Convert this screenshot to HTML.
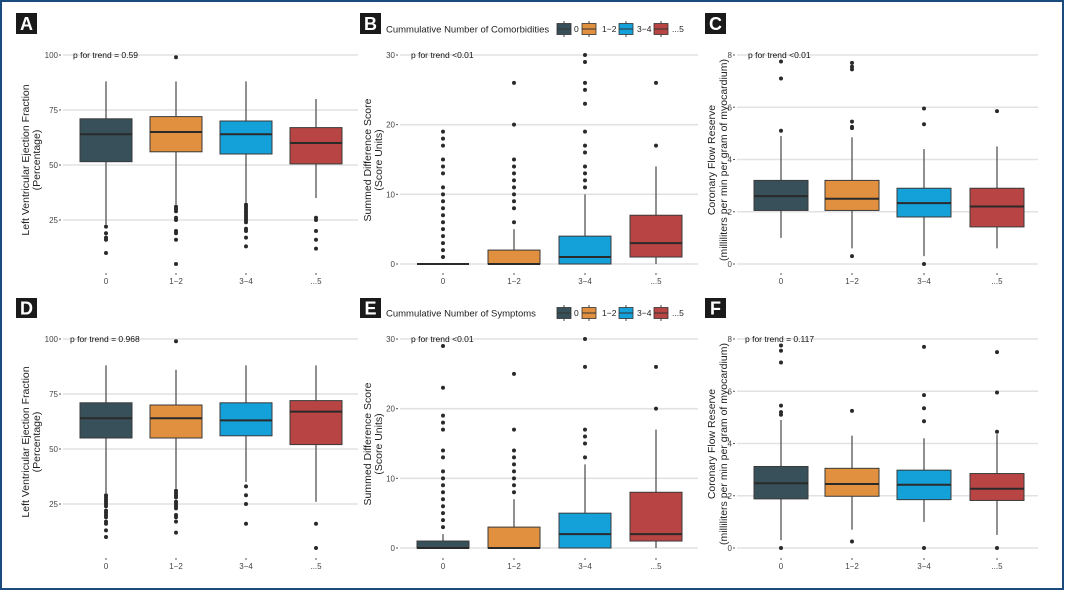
<!DOCTYPE html>
<html><head><meta charset="utf-8">
<style>
body{margin:0;background:#fff;}
svg{display:block;font-family:"Liberation Sans",sans-serif;}
</style></head>
<body>
<svg id="fig" width="1065" height="592" viewBox="0 0 1065 592">
<rect x="1" y="1" width="1062" height="588" fill="#fff" stroke="#1b4a7c" stroke-width="2"/>
</svg>
<script>
const categories = ["0","1\u22122","3\u22124","...5"];
const colors = ["#37505a","#e0903f","#14a0d8","#b84444"];

const aLower=[23,32,33,35], aQ1=[51.5,56,55,50.5], aMed=[64,65,64,60], aQ3=[71,72,70,67], aUpper=[88,88,88,80];
const aOut=[[22,19,17,16,10],[99,31,30,29,26,25,20,19,16,5],[32,31,30,29,28,27,26,25,24,21,20,17,13],[26,25,20,16,12]];
const bLower=[0,0,0,0], bQ1=[0,0,0,1], bMed=[0,0,1,3], bQ3=[0,2,4,7], bUpper=[0,5,10,14];
const bOut=[[1,2,3,4,5,6,7,8,9,10,11,13,14,15,17,18,19],[6,8,9,10,11,12,13,14,15,20,26],[11,12,13,14,16,17,19,23,25,26,29,30],[17,26]];
const cLower=[1.0,0.6,0.3,0.6], cQ1=[2.05,2.05,1.8,1.42], cMed=[2.6,2.5,2.33,2.2], cQ3=[3.2,3.2,2.9,2.9], cUpper=[4.9,4.85,4.4,4.5];
const cOut=[[7.75,7.1,5.1],[7.7,7.55,7.45,5.45,5.25,5.2,0.3],[5.95,5.35,0],[5.85]];
const dLower=[30,32,35,26], dQ1=[55,55,56,52], dMed=[64,64,63,67], dQ3=[71,70,71,72], dUpper=[88,86,88,88];
const dOut=[[29,28,27,26,25,24,22,21,20,19,17,16,13,10],[99,31,30,29,28,26,25,24,23,20,19,17,12],[33,29,25,16],[16,5]];
const eLower=[0,0,0,0], eQ1=[0,0,0,1], eMed=[0,0,2,2], eQ3=[1,3,5,8], eUpper=[2,7,12,17];
const eOut=[[3,4,5,6,7,8,9,10,11,13,14,17,18,19,23,29],[8,9,10,11,12,13,14,17,25],[13,15,16,17,26,30],[20,26]];
const fLower=[0.3,0.7,1.0,0.5], fQ1=[1.88,1.98,1.85,1.82], fMed=[2.48,2.45,2.42,2.27], fQ3=[3.12,3.05,2.98,2.85], fUpper=[4.9,4.3,4.2,4.35];
const fOut=[[7.75,7.55,7.1,5.45,5.2,5.1,0],[5.25,0.25],[7.7,5.85,5.35,4.85,0],[7.5,5.95,4.45,0]];

const efTicks=[25,50,75,100], sdsTicks=[0,10,20,30], cfrTicks=[0,2,4,6,8];

const NS="http://www.w3.org/2000/svg";
const svg=document.getElementById('fig');
function mk(tag,attrs,parent){const e=document.createElementNS(NS,tag);for(const k in attrs)e.setAttribute(k,attrs[k]);(parent||svg).appendChild(e);return e;}

const panels=[
 {id:'a',letter:'A',lx:16,ly:13,lh:21,gx0:63,gx1:358,cx:[106,176,246,316],hw:26,dmin:0,dmax:100,y0:275,yTop:55,ticks:efTicks,ttl:["Left Ventricular Ejection Fraction","(Percentage)"],tx:[29,40],ty:160,p:"p for trend = 0.59",px:73,catY:282,lower:aLower,q1:aQ1,med:aMed,q3:aQ3,upper:aUpper,out:aOut},
 {id:'b',letter:'B',lx:360,ly:13,lh:21,gx0:400,gx1:698,cx:[443,514,585,656],hw:26,dmin:0,dmax:30,y0:264,yTop:55,ticks:sdsTicks,ttl:["Summed Difference Score","(Score Units)"],tx:[371,382],ty:160,p:"p for trend <0.01",px:411,catY:282,legend:"Cummulative Number of Comorbidities",legY:29,lower:bLower,q1:bQ1,med:bMed,q3:bQ3,upper:bUpper,out:bOut},
 {id:'c',letter:'C',lx:705,ly:13,lh:21,gx0:737,gx1:1038,cx:[781,852,924,997],hw:27,dmin:0,dmax:8,y0:264,yTop:55,ticks:cfrTicks,ttl:["Coronary Flow Reserve","(milliliters per min per gram of myocardium)"],tx:[715,727],ty:160,p:"p for trend <0.01",px:748,catY:282,lower:cLower,q1:cQ1,med:cMed,q3:cQ3,upper:cUpper,out:cOut},
 {id:'d',letter:'D',lx:16,ly:298,lh:20,gx0:63,gx1:358,cx:[106,176,246,316],hw:26,dmin:0,dmax:100,y0:559,yTop:339,ticks:efTicks,ttl:["Left Ventricular Ejection Fraction","(Percentage)"],tx:[29,40],ty:442,p:"p for trend = 0.968",px:70,catY:567,lower:dLower,q1:dQ1,med:dMed,q3:dQ3,upper:dUpper,out:dOut},
 {id:'e',letter:'E',lx:360,ly:298,lh:20,gx0:400,gx1:698,cx:[443,514,585,656],hw:26,dmin:0,dmax:30,y0:548,yTop:339,ticks:sdsTicks,ttl:["Summed Difference Score","(Score Units)"],tx:[371,382],ty:444,p:"p for trend <0.01",px:411,catY:567,legend:"Cummulative Number of Symptoms",legY:313,lower:eLower,q1:eQ1,med:eMed,q3:eQ3,upper:eUpper,out:eOut},
 {id:'f',letter:'F',lx:705,ly:298,lh:20,gx0:737,gx1:1038,cx:[781,852,924,997],hw:27,dmin:0,dmax:8,y0:548,yTop:339,ticks:cfrTicks,ttl:["Coronary Flow Reserve","(milliliters per min per gram of myocardium)"],tx:[715,727],ty:444,p:"p for trend = 0.117",px:745,catY:567,lower:fLower,q1:fQ1,med:fMed,q3:fQ3,upper:fUpper,out:fOut}
];

panels.forEach(P=>{
  const g=mk('g',{});
  
  
  const y=v=>P.y0-(v-P.dmin)/(P.dmax-P.dmin)*(P.y0-P.yTop);
  const lb=mk('rect',{x:P.lx,y:P.ly,width:21,height:P.lh,fill:'#1a1a1a'},g);
  
  
  const lt=mk('text',{x:P.lx+10.5,y:P.ly+P.lh/2+6.5,'text-anchor':'middle','font-size':18,'font-weight':'bold',fill:'#fff'},g);
  lt.textContent=P.letter;
  
  
  P.ticks.forEach(t=>{
    const gl=mk('line',{x1:P.gx0,x2:P.gx1,y1:y(t),y2:y(t),stroke:'#e2e2e2','stroke-width':1.6},g);
    
    
    mk('line',{x1:P.gx0-4,x2:P.gx0-2,y1:y(t),y2:y(t),stroke:'#555','stroke-width':1},g);
    const tl=mk('text',{x:P.gx0-5,y:y(t)+3,'text-anchor':'end','font-size':8,fill:'#444'},g);
    tl.textContent=t;
    
    
  });
  P.ttl.forEach((s,i)=>{
    const tt=mk('text',{x:P.tx[i],y:P.ty,'text-anchor':'middle','font-size':10.5,fill:'#222',transform:`rotate(-90 ${P.tx[i]} ${P.ty})`},g);
    tt.textContent=s;
    
    
  });
  categories.forEach((c,i)=>{
    const x=P.cx[i];
    const bg=mk('g',{},g);
    
    
    mk('line',{x1:x,x2:x,y1:y(P.upper[i]),y2:y(P.q3[i]),stroke:'#555','stroke-width':1.3},bg);
    mk('line',{x1:x,x2:x,y1:y(P.q1[i]),y2:y(P.lower[i]),stroke:'#555','stroke-width':1.3},bg);
    const h=Math.max(y(P.q1[i])-y(P.q3[i]),0);
    mk('rect',{x:x-P.hw,y:y(P.q3[i]),width:2*P.hw,height:h,fill:colors[i],stroke:'#3a3a3a','stroke-width':1},bg);
    mk('line',{x1:x-P.hw,x2:x+P.hw,y1:y(P.med[i]),y2:y(P.med[i]),stroke:'#2a2a2a','stroke-width':2},bg);
    P.out[i].forEach(v=>{
      const d=mk('circle',{cx:x,cy:y(v),r:2,fill:'#2a2a2a'},bg);
      
      
    });
    mk('line',{x1:x,x2:x,y1:P.catY-9,y2:P.catY-7,stroke:'#555','stroke-width':1},g);
    const cl=mk('text',{x:x,y:P.catY+2,'text-anchor':'middle','font-size':8,fill:'#444'},g);
    cl.textContent=c;
    
    
  });
  const pt=mk('text',{x:P.px,y:y(P.dmax)+3,'font-size':8.5,fill:'#111'},g);
  pt.textContent=P.p;
  
  
  if(P.legend){
    const lg=mk('g',{},g);
    
    
    const ltx=mk('text',{x:386,y:P.legY+3.5,'font-size':9.5,fill:'#222'},lg);
    ltx.textContent=P.legend;
    const kx=[557,582,619,654], tx=[574,602,637,672];
    categories.forEach((c,i)=>{
      const k=mk('g',{},lg);
      
      
      mk('line',{x1:kx[i]+7,x2:kx[i]+7,y1:P.legY-8,y2:P.legY+8,stroke:'#444','stroke-width':1},k);
      mk('rect',{x:kx[i],y:P.legY-5.5,width:14,height:11,fill:colors[i],stroke:'#333','stroke-width':0.8},k);
      mk('line',{x1:kx[i],x2:kx[i]+14,y1:P.legY,y2:P.legY,stroke:'#333','stroke-width':1},k);
      const t=mk('text',{x:tx[i],y:P.legY+3,'font-size':8.5,fill:'#222'},k);
      t.textContent=c;
    });
  }
});
</script>
</body></html>
